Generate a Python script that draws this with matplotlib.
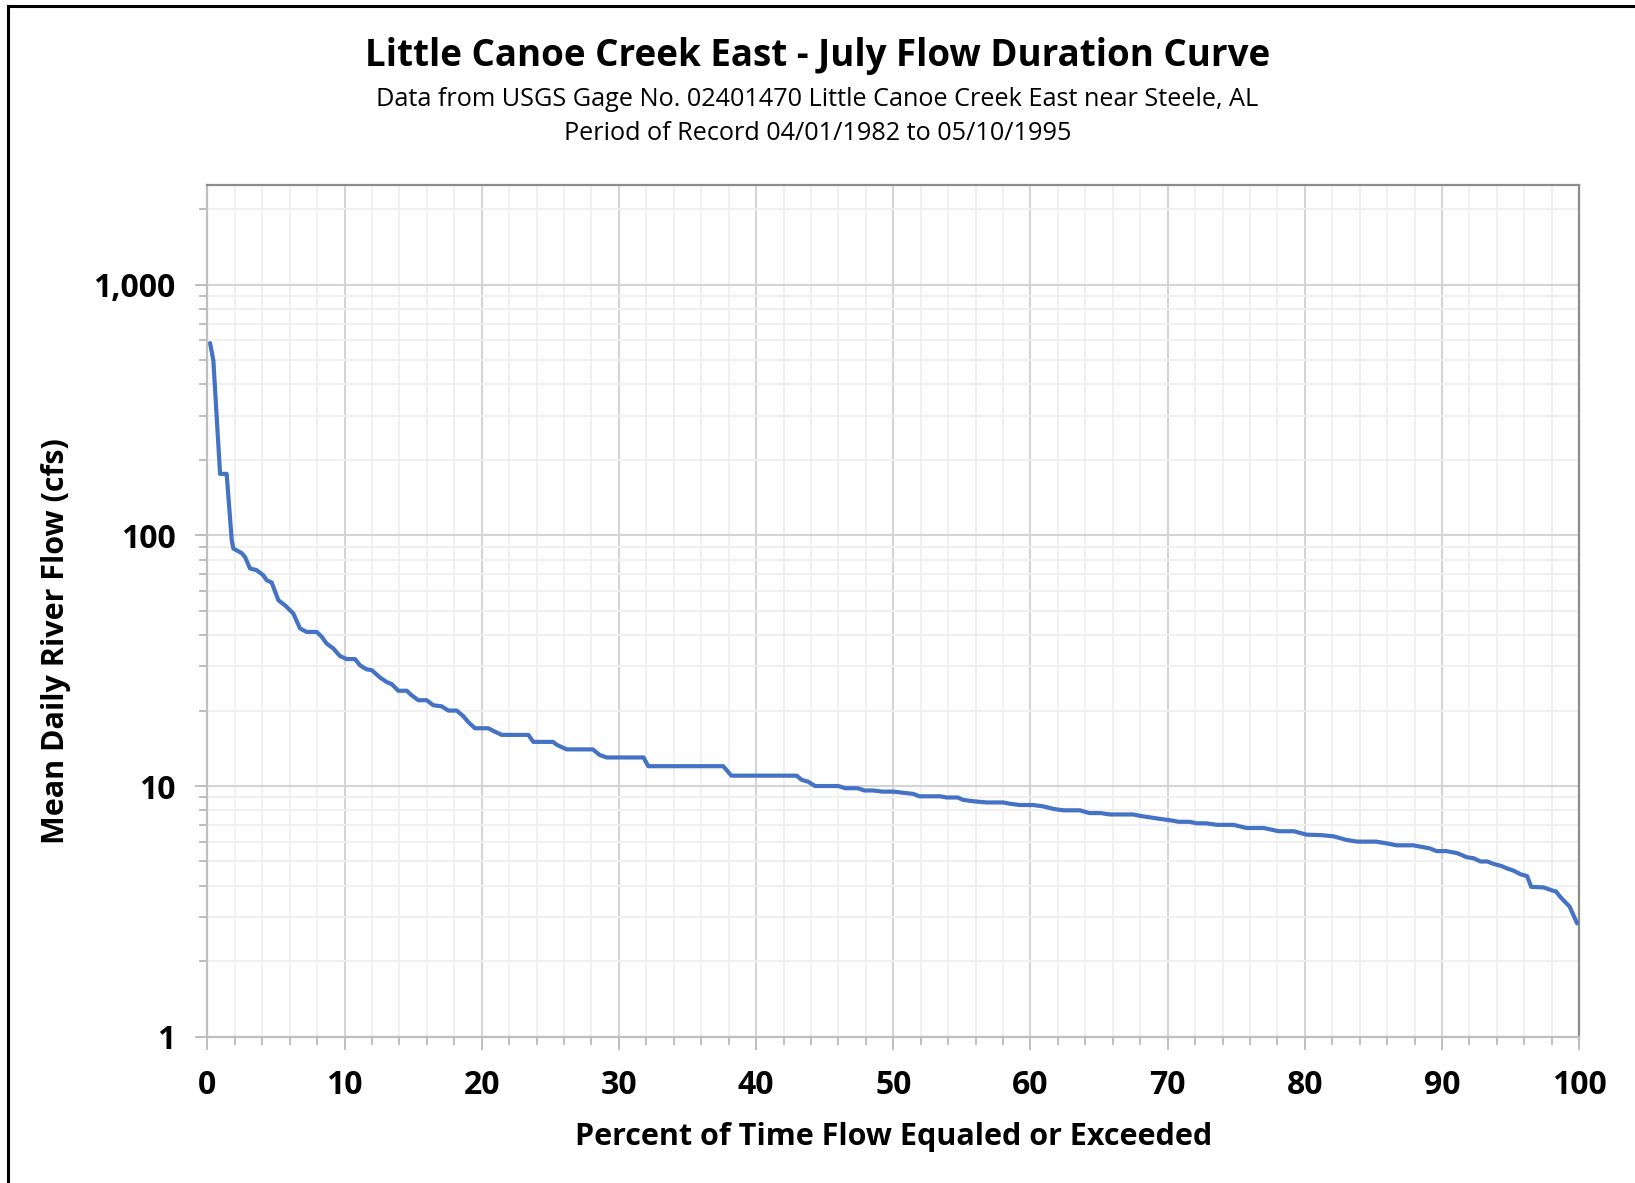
import matplotlib
matplotlib.use("Agg")
import matplotlib.pyplot as plt
from matplotlib.lines import Line2D
from matplotlib.ticker import FixedLocator, LogLocator, FuncFormatter, NullFormatter

plt.rcParams["font.family"] = ["Open Sans", "DejaVu Sans"]

# July flow duration curve: percent of time exceeded vs mean daily flow (cfs)
pct_exceeded = [
    0.2, 0.44, 0.93, 1.41, 1.78, 1.9, 2.5, 2.75, 3.11, 3.6, 4.08, 4.33, 4.69,
    5.18, 5.66, 6.27, 6.76, 7.24, 7.97, 8.34, 8.7, 9.18, 9.67, 10.16, 10.77,
    11.13, 11.62, 11.98, 12.59, 13.07, 13.44, 13.92, 14.53, 14.9, 15.38, 15.99,
    16.47, 17.08, 17.57, 18.18, 18.66, 19.02, 19.51, 20.48, 20.84, 21.46, 23.4,
    23.76, 25.2, 25.47, 26.2, 28.1, 28.6, 29.1, 31.8, 32.14, 37.6, 38.2, 42.96,
    43.3, 43.8, 44.3, 46.0, 46.5, 47.4, 47.9, 48.5, 49.2, 50.0, 50.7, 51.46,
    51.9, 53.4, 53.9, 54.7, 55.1, 55.8, 56.8, 58.0, 58.5, 59.2, 60.2, 60.9,
    61.7, 62.4, 63.6, 64.3, 65.1, 65.8, 67.5, 68.0, 68.7, 69.4, 70.2, 70.8,
    71.6, 72.1, 72.8, 73.6, 74.8, 75.75, 77.0, 78.1, 79.2, 80.1, 81.2, 82.1,
    83.0, 83.8, 85.2, 86.0, 86.7, 87.9, 89.1, 89.6, 90.3, 91.1, 91.8, 92.3,
    92.8, 93.3, 93.7, 94.3, 94.7, 95.2, 95.7, 96.2, 96.5, 97.4, 98.1, 98.3,
    98.6, 99.3, 99.85,
]
flow_cfs = [
    585, 499, 176, 176, 95.6, 88.6, 85, 82, 73.8, 72.6, 69.3, 66.2, 64.9,
    55.1, 52.6, 48.8, 42.5, 41.2, 41.2, 39.4, 37.0, 35.4, 33.0, 32.1, 32.1,
    30.3, 29.2, 29.0, 27.1, 26.0, 25.5, 24, 24, 23, 22, 22,
    21, 20.8, 20, 20, 19, 18, 17, 17, 16.6, 16, 16,
    15, 15, 14.6, 14, 14, 13.3, 13, 13, 12, 12, 11, 11,
    10.6, 10.4, 10, 10, 9.8, 9.8, 9.6, 9.6, 9.5, 9.5, 9.4, 9.3,
    9.1, 9.1, 9.0, 9.0, 8.8, 8.7, 8.6, 8.6, 8.5, 8.4, 8.4, 8.3,
    8.1, 8.0, 8.0, 7.8, 7.8, 7.7, 7.7, 7.6, 7.5, 7.4, 7.3, 7.2,
    7.2, 7.1, 7.1, 7.0, 7.0, 6.8, 6.8, 6.6, 6.6, 6.4, 6.37, 6.3,
    6.1, 6.0, 6.0, 5.9, 5.8, 5.8, 5.64, 5.5, 5.5, 5.4, 5.2, 5.15,
    5.0, 5.0, 4.9, 4.8, 4.7, 4.6, 4.45, 4.37, 3.96, 3.94, 3.82, 3.8,
    3.62, 3.3, 2.83,
]

x_major = [0, 10, 20, 30, 40, 50, 60, 70, 80, 90, 100]
x_minor = list(range(0, 101, 2))
y_major = [1, 10, 100, 1000]

fig = plt.figure(figsize=(16.35, 11.83), dpi=100)
ax = fig.add_axes([0.1268, 0.1237, 0.8391, 0.7199])

ax.plot(pct_exceeded, flow_cfs, color="#4472C4", lw=3.0, solid_joinstyle="round",
        solid_capstyle="round", zorder=3)

ax.set_yscale("log")
ax.set_xlim(0, 100)
ax.set_ylim(1, 2500)

ax.xaxis.set_major_locator(FixedLocator(x_major))
ax.xaxis.set_minor_locator(FixedLocator(x_minor))
ax.yaxis.set_major_locator(FixedLocator(y_major))
ax.yaxis.set_minor_locator(LogLocator(base=10, subs=range(2, 10)))
ax.yaxis.set_major_formatter(FuncFormatter(lambda v, p: f"{v:,.0f}"))
ax.yaxis.set_minor_formatter(NullFormatter())

ax.grid(which="major", color="#D4D4D4", lw=1.5, zorder=1)
ax.grid(which="minor", color="#EFEFEF", lw=1.3, zorder=0)
ax.set_axisbelow(True)

for side in ("left", "bottom"):
    ax.spines[side].set_color("#BFBFBF")
    ax.spines[side].set_linewidth(1.6)
for side in ("top", "right"):
    ax.spines[side].set_color("#8C8C8C")
    ax.spines[side].set_linewidth(1.6)

ax.tick_params(which="major", length=9, width=1.4, color="#BFBFBF")
ax.tick_params(which="minor", length=6, width=1.4, color="#BFBFBF")
ax.tick_params(axis="y", which="major", pad=14)
ax.tick_params(axis="x", which="major", pad=14)
for lbl in ax.get_xticklabels() + ax.get_yticklabels():
    lbl.set_fontsize(23)
    lbl.set_fontweight("bold")

ax.set_xlabel("Percent of Time Flow Equaled or Exceeded", fontsize=22,
              fontweight="bold", labelpad=15)
ax.set_ylabel("Mean Daily River Flow (cfs)", fontsize=22, fontweight="bold",
              labelpad=16)
ax.yaxis.label.set_y(0.464)

fig.text(0.5, 1 - 56 / 1183, "Little Canoe Creek East - July Flow Duration Curve",
         ha="center", va="center", fontsize=26.5, fontweight="bold")
fig.text(0.5, 1 - 99 / 1183,
         "Data from USGS Gage No. 02401470 Little Canoe Creek East near Steele, AL",
         ha="center", va="center", fontsize=18.2)
fig.text(0.5, 1 - 134 / 1183, "Period of Record 04/01/1982 to 05/10/1995",
         ha="center", va="center", fontsize=18.2)

# outer frame, open on the right and bottom
fx = 7.5 / 1635
fy = 1 - 5.5 / 1183
fig.add_artist(Line2D([fx, 1], [fy, fy], color="black", lw=2.2))
fig.add_artist(Line2D([fx, fx], [0, fy], color="black", lw=2.2))

fig.savefig("out.png", dpi=100)
